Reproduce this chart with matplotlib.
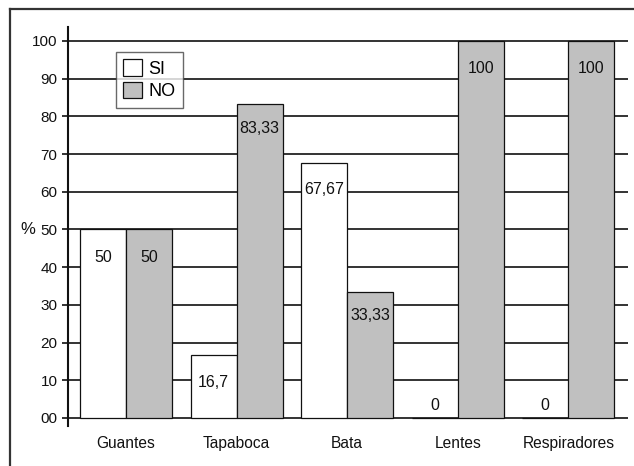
import matplotlib.pyplot as plt
import numpy as np
from matplotlib.lines import Line2D
from matplotlib.patches import Patch

plt.rcParams["font.family"] = ["Liberation Sans", "DejaVu Sans"]

GRAY = "#c0c0c0"
INK = "#111111"

categories = ["Guantes", "Tapaboca", "Bata", "Lentes", "Respiradores"]
si_values = [50, 16.7, 67.67, 0, 0]
no_values = [50, 83.33, 33.33, 100, 100]
si_labels = ["50", "16,7", "67,67", "0", "0"]
no_labels = ["50", "83,33", "33,33", "100", "100"]
y_ticks = [0, 10, 20, 30, 40, 50, 60, 70, 80, 90, 100]
y_tick_labels = ["00", "10", "20", "30", "40", "50", "60", "70", "80", "90", "100"]

# label drop below bar top, in points (negative = above)
si_drop = [20, 19.5, 19, -9, -9]
no_drop = [20, 17.5, 16.5, 19.5, 19.5]

BAR_W = 0.416

fig = plt.figure(figsize=(6.34, 4.66), dpi=100)
ax = fig.add_axes([0.1073, 0.0869, 0.8832, 0.8551])

x = np.arange(len(categories))
for yv in y_ticks:
    ax.axhline(yv, color=INK, lw=1.2, zorder=1)

ax.bar(x - BAR_W / 2, si_values, BAR_W, color="white", edgecolor=INK, lw=0.9, zorder=3)
ax.bar(x + BAR_W / 2, no_values, BAR_W, color=GRAY, edgecolor=INK, lw=0.9, zorder=3)

for xi, v, lab, d in zip(x - BAR_W / 2, si_values, si_labels, si_drop):
    ax.annotate(lab, (xi, v), xytext=(0, -d), textcoords="offset points",
                ha="center", va="center", fontsize=11.5, color=INK, zorder=4)
for xi, v, lab, d in zip(x + BAR_W / 2, no_values, no_labels, no_drop):
    ax.annotate(lab, (xi, v), xytext=(0, -d), textcoords="offset points",
                ha="center", va="center", fontsize=11.5, color=INK, zorder=4)

ax.set_xlim(-0.525, 4.54)
ax.set_ylim(-2, 103.7)
ax.set_yticks(y_ticks)
ax.set_yticklabels(y_tick_labels, fontsize=11, color=INK)
ax.tick_params(axis="y", direction="out", length=4.5, width=1.2, pad=3, colors=INK)
ax.set_xticks(x)
ax.set_xticklabels(categories, fontsize=11.2, color=INK)
ax.tick_params(axis="x", length=0, pad=7.5)

for side in ("top", "right", "bottom"):
    ax.spines[side].set_visible(False)
ax.spines["left"].set_linewidth(1.5)
ax.spines["left"].set_color(INK)

ax.text(-0.059, 50, "%", transform=ax.get_yaxis_transform(), ha="right", va="center",
        fontsize=12, color=INK)

handles = [Patch(facecolor="white", edgecolor=INK, lw=0.9, label="SI"),
           Patch(facecolor=GRAY, edgecolor=INK, lw=0.9, label="NO")]
leg = ax.legend(handles=handles, loc="upper left", bbox_to_anchor=(0.0855, 0.937),
                frameon=True, fancybox=False, fontsize=13, handlelength=1.05,
                handleheight=1.0, handletextpad=0.35, borderpad=0.4,
                labelspacing=0.25, borderaxespad=0)
leg.get_frame().set_edgecolor("#444444")
leg.get_frame().set_linewidth(1.0)
leg.set_zorder(5)

# outer frame (top and left edges)
fig.add_artist(Line2D([10 / 634, 10 / 634], [0, 1 - 9 / 466], transform=fig.transFigure,
                      color="#333333", lw=1.6))
fig.add_artist(Line2D([10 / 634, 1], [1 - 9 / 466, 1 - 9 / 466], transform=fig.transFigure,
                      color="#333333", lw=1.6))

fig.savefig("out.png", dpi=100)
